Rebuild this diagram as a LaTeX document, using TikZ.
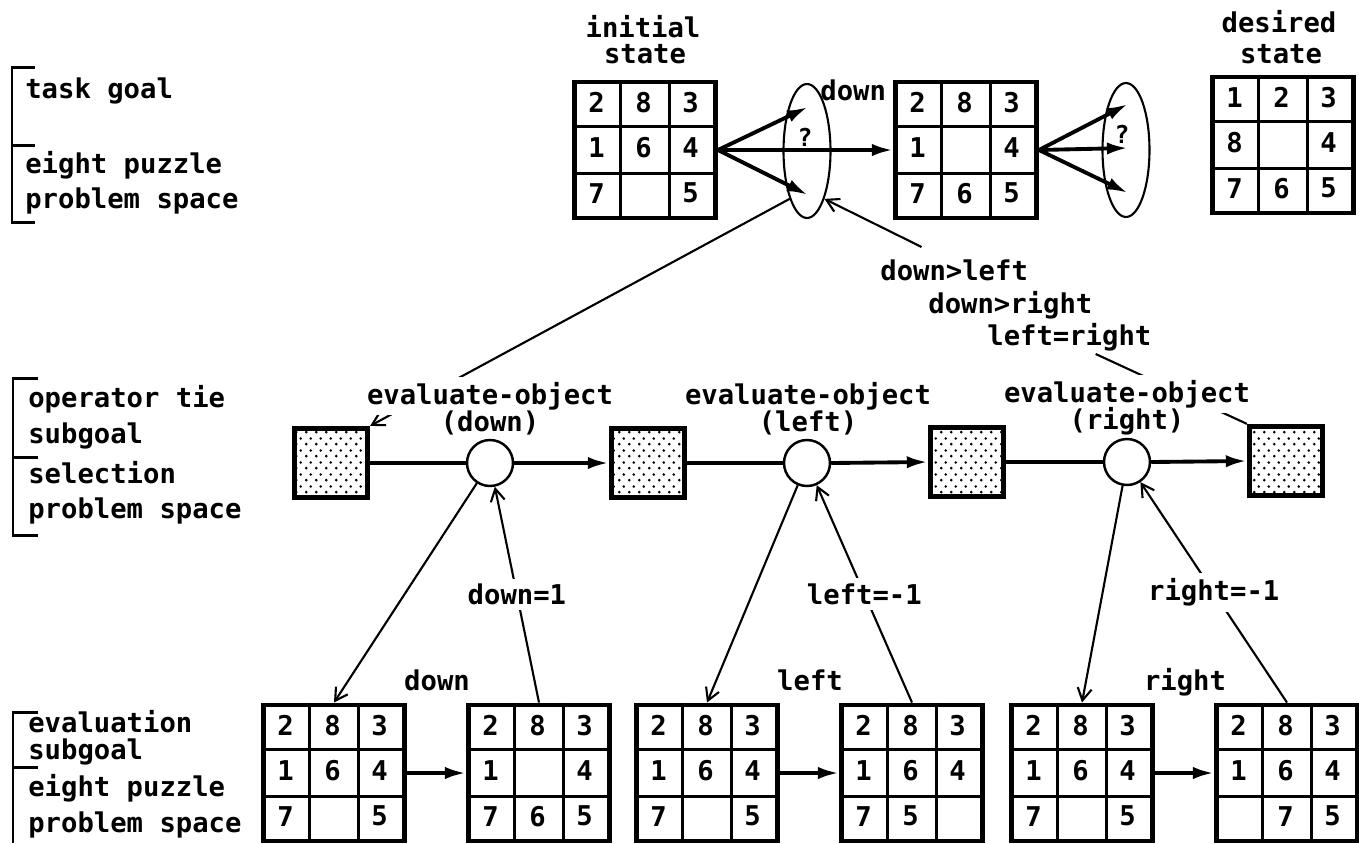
\documentclass[tikz,border=0pt]{standalone}
\usepackage{fontspec}
\newfontfamily\typer{DejaVu Sans Mono}
\usetikzlibrary{arrows.meta,calc,patterns,shapes.geometric}

% stippled fill of the subgoal boxes
\pgfdeclarepatternformonly{stipple}{\pgfqpoint{0pt}{0pt}}{\pgfqpoint{5.4pt}{6.6pt}}{\pgfqpoint{5.4pt}{6.6pt}}{%
  \pgfpathcircle{\pgfqpoint{1.35pt}{1.65pt}}{0.85pt}%
  \pgfpathcircle{\pgfqpoint{4.05pt}{4.95pt}}{0.85pt}%
  \pgfusepath{fill}}

% eight puzzle board: name, centre, nine tiles
\newcommand{\board}[3]{%
  \node[board] (#1) at (#2) {};
  \draw[cell] ($(#1.north west)!1/3!(#1.north east)$) -- ($(#1.south west)!1/3!(#1.south east)$);
  \draw[cell] ($(#1.north west)!2/3!(#1.north east)$) -- ($(#1.south west)!2/3!(#1.south east)$);
  \draw[cell] ($(#1.north west)!1/3!(#1.south west)$) -- ($(#1.north east)!1/3!(#1.south east)$);
  \draw[cell] ($(#1.north west)!2/3!(#1.south west)$) -- ($(#1.north east)!2/3!(#1.south east)$);
  \foreach \dg [count=\k from 0] in {#3} {
    \pgfmathtruncatemacro{\row}{div(\k,3)}
    \pgfmathtruncatemacro{\col}{mod(\k,3)}
    \node[digit] (#1-\k) at ($(#1.north west)+(\col*47+24.5,\row*45.3+23)$) {\dg};
  }
}

\begin{document}
\begin{tikzpicture}[
    x=0.02cm, y=-0.02cm,
    txt/.style={font=\typer\bfseries\fontsize{15.5}{20}\selectfont, inner sep=0pt},
    digit/.style={txt},
    board/.style={draw, line width=2.8pt, minimum width=2.82cm, minimum height=2.72cm, inner sep=0pt},
    cell/.style={line width=2pt},
    tiebox/.style={draw, line width=3pt, minimum width=1.46cm, minimum height=1.38cm,
      pattern=stipple, inner sep=0pt},
    evalop/.style={draw, circle, line width=1.4pt, minimum size=0.92cm, inner sep=0pt},
    tie/.style={draw, ellipse, line width=1.2pt, minimum width=0.94cm, minimum height=2.68cm, inner sep=0pt},
    link/.style={line width=1.2pt},
    pointer/.style={link, -{Straight Barb[length=7pt,width=8pt]}},
    flow/.style={line width=2.2pt},
    move/.style={flow, -{Latex[length=12pt,width=7pt]}},
    bracket/.style={line width=1.7pt},
    mask/.style={txt, fill=white, inner sep=3pt}
  ]
  \useasboundingbox (0,0) rectangle (1359,843);

  % level brackets on the left
  \draw[bracket] (35,67) -- (12,67) -- (12,222) -- (35,222);
  \draw[bracket] (12,145) -- (35,145);
  \node[txt, anchor=base west] (taskgoal) at (25,98) {task goal};
  \node[txt, anchor=base west] (topspaceA) at (25,173) {eight puzzle};
  \node[txt, anchor=base west] (topspaceB) at (25,208) {problem space};

  \draw[bracket] (38,378) -- (13,378) -- (13,535) -- (38,535);
  \draw[bracket] (13,457) -- (38,457);
  \node[txt, anchor=base west] (tieA) at (28,407) {operator tie};
  \node[txt, anchor=base west] (tieB) at (28,443) {subgoal};
  \node[txt, anchor=base west] (selA) at (28,483) {selection};
  \node[txt, anchor=base west] (selB) at (28,518) {problem space};

  \draw[bracket] (38,712) -- (13,712) -- (13,843);
  \draw[bracket] (13,767) -- (38,767);
  \node[txt, anchor=base west] (evalA) at (28,732) {evaluation};
  \node[txt, anchor=base west] (evalB) at (28,759) {subgoal};
  \node[txt, anchor=base west] (botspaceA) at (28,796) {eight puzzle};
  \node[txt, anchor=base west] (botspaceB) at (28,832) {problem space};

  % task level
  \node[txt, anchor=base] (initA) at (643,37) {initial};
  \node[txt, anchor=base] (initB) at (645,63) {state};
  \node[txt, anchor=base] (goalA) at (1279,32) {desired};
  \node[txt, anchor=base] (goalB) at (1281,63) {state};

  \board{init}{645,150}{2,8,3,1,6,4,7,{},5}
  \board{mid}{966,150}{2,8,3,1,{},4,7,6,5}
  \board{goal}{1283,145}{1,2,3,8,{},4,7,6,5}

  \node[tie] (tie1) at (807,151) {};
  \node[tie] (tie2) at (1126,150) {};
  \node[txt, font=\typer\bfseries\fontsize{14}{16}\selectfont] (q1) at (805,137) {?};
  \node[txt, font=\typer\bfseries\fontsize{14}{16}\selectfont] (q2) at (1122,134) {?};
  \node[txt, anchor=base west] (downtop) at (820,100) {down};

  \coordinate (tie1up) at ($(tie1.center)+(1,-44)$);
  \coordinate (tie1dn) at ($(tie1.center)+(1,44)$);
  \coordinate (tie2up) at ($(tie2.center)+(2,-46)$);
  \coordinate (tie2md) at ($(tie2.center)+(2,-2)$);
  \coordinate (tie2dn) at ($(tie2.center)+(2,43)$);

  \draw[move] (init.east) -- (tie1up);
  \draw[move] (init.east) -- (mid.west);
  \draw[move] (init.east) -- (tie1dn);
  \draw[move] (mid.east) -- (tie2up);
  \draw[move] (mid.east) -- (tie2md);
  \draw[move] (mid.east) -- (tie2dn);

  % preferences
  \node[txt, anchor=base west] (dl) at (880,280) {down>left};
  \node[txt, anchor=base west] (dr) at (928,313) {down>right};
  \node[txt, anchor=base west] (lr) at (987,345) {left=right};
  \coordinate (prefA) at ($(dl.north west)!0.28!(dl.north east)+(0,-12)$);
  \coordinate (prefB) at ($(lr.south west)!0.66!(lr.south east)+(0,3)$);

  % selection level
  \node[tiebox] (box1) at (331,463) {};
  \node[tiebox] (box2) at (648,463) {};
  \node[tiebox] (box3) at (967,462) {};
  \node[tiebox] (box4) at (1286,461) {};
  \node[evalop] (c1) at (490,463) {};
  \node[evalop] (c2) at (807,463) {};
  \node[evalop] (c3) at (1127,462) {};

  \draw[flow] (box1.east) -- (c1.west);
  \draw[move] (c1.east) -- (box2.west);
  \draw[flow] (box2.east) -- (c2.west);
  \draw[move] (c2.east) -- (box3.west);
  \draw[flow] (box3.east) -- (c3.west);
  \draw[move] (c3.east) -- (box4.west);

  \draw[pointer] (prefA) -- (tie1.-70);
  \draw[pointer] (tie1.-110) -- (box1.north east);
  \draw[link] (prefB) -- (box4.north west);

  \node[mask, anchor=base] (evdownA) at (490,404) {evaluate-object};
  \node[txt, anchor=base] (evdownB) at (490,431) {(down)};
  \node[mask, anchor=base] (evleftA) at (808,404) {evaluate-object};
  \node[txt, anchor=base] (evleftB) at (808,431) {(left)};
  \node[mask, anchor=base] (evrightA) at (1127,402) {evaluate-object};
  \node[txt, anchor=base] (evrightB) at (1127,429) {(right)};

  % evaluation level
  \board{evA}{334,773}{2,8,3,1,6,4,7,{},5}
  \board{evB}{539,773}{2,8,3,1,{},4,7,6,5}
  \board{evC}{707,773}{2,8,3,1,6,4,7,{},5}
  \board{evD}{912,773}{2,8,3,1,6,4,7,5,{}}
  \board{evE}{1082,773}{2,8,3,1,6,4,7,{},5}
  \board{evF}{1287,773}{2,8,3,1,6,4,{},7,5}

  \draw[move] (evA.east) -- (evB.west);
  \draw[move] (evC.east) -- (evD.west);
  \draw[move] (evE.east) -- (evF.west);
  \node[txt, anchor=base] (mvdown) at (437,690) {down};
  \node[txt, anchor=base] (mvleft) at (810,690) {left};
  \node[txt, anchor=base] (mvright) at (1185,690) {right};

  \draw[pointer] (c1) -- (evA.north);
  \draw[pointer] (c2) -- (evC.north);
  \draw[pointer] (c3) -- (evE.north);
  \draw[pointer] (evB.north) -- node[mask] (valdown) {down=1} (c1);
  \draw[pointer] (evD.north) -- node[mask] (valleft) {left=-1} (c2);
  \draw[pointer] (evF.north) -- node[mask] (valright) {right=-1} (c3);
\end{tikzpicture}
\end{document}
